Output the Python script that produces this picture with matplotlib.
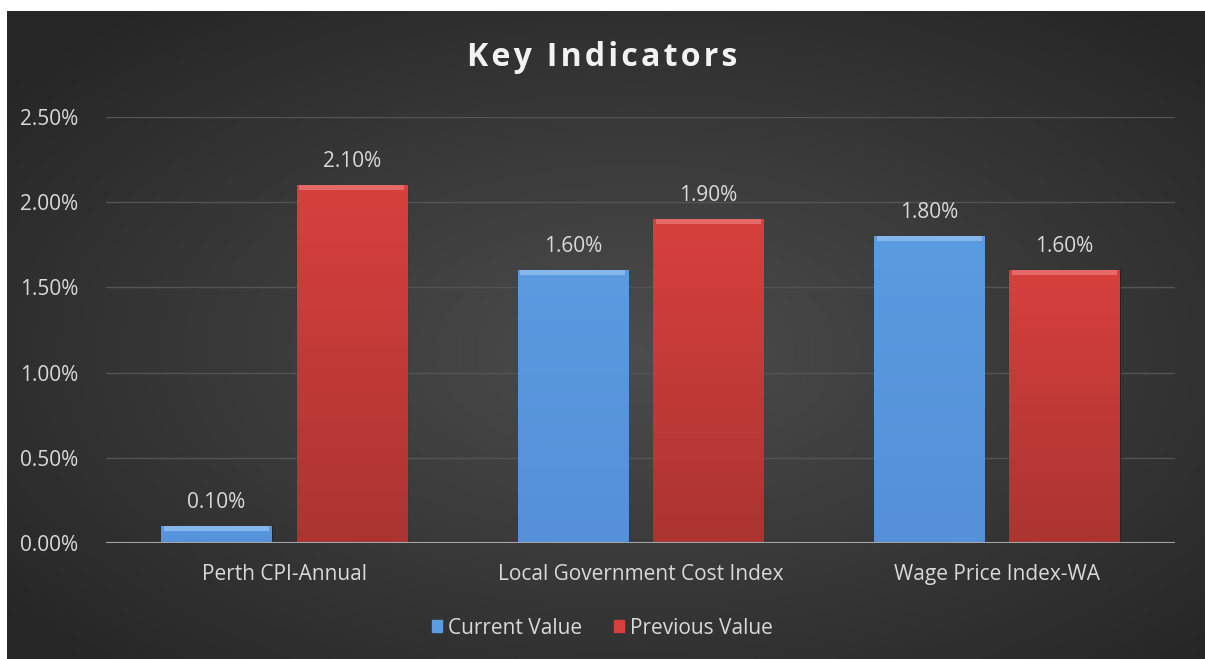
import numpy as np
import matplotlib.pyplot as plt
from matplotlib.patches import Rectangle
from matplotlib.colors import LinearSegmentedColormap

categories = ["Perth CPI-Annual", "Local Government Cost Index", "Wage Price Index-WA"]
current_value = [0.001, 0.016, 0.018]
previous_value = [0.021, 0.019, 0.016]
series_names = ["Current Value", "Previous Value"]
yticks = [0.0, 0.005, 0.010, 0.015, 0.020, 0.025]

plt.rcParams['font.family'] = ['Open Sans', 'DejaVu Sans']
txt = "#d9d9d9"

fig = plt.figure(figsize=(12.05, 6.59), dpi=100, facecolor="white")

# dark radial-gradient background
bg = fig.add_axes([7 / 1205, 0, 1198 / 1205, 648 / 659])
gx, gy = np.meshgrid(np.linspace(-1, 1, 300), np.linspace(-1, 1, 200))
r = np.clip(np.sqrt((gx - 0.05) ** 2 + (gy - 0.05) ** 2) / 1.35, 0, 1)
g = 0.30 - 0.15 * r
bg.imshow(np.dstack([g, g, g]), aspect="auto", extent=[0, 1, 0, 1])
bg.set_axis_off()

ax = fig.add_axes([106 / 1205, 116 / 659, 1069 / 1205, 426 / 659])
ax.set_facecolor("none")
x = np.arange(len(categories))
w = 0.31
off = 0.19
colors = ["#5b9be0", "#d7403d"]
bottoms = ["#5590d8", "#ab3431"]
tops = ["#86b7ec", "#e56a67"]
grad = np.linspace(1, 0, 100).reshape(-1, 1)
for vals, sign, c, bc, tc in [(current_value, -1, colors[0], bottoms[0], tops[0]),
                              (previous_value, 1, colors[1], bottoms[1], tops[1])]:
    pos = x + sign * off
    bars = ax.bar(pos, vals, w, color=c, edgecolor="#262626", linewidth=0.8, zorder=3)
    cmap = LinearSegmentedColormap.from_list("g", [bc, c])
    for b in bars:
        bx, by = b.get_x(), b.get_y()
        im = ax.imshow(grad, cmap=cmap, aspect="auto", zorder=3.5,
                       extent=[bx, bx + b.get_width(), by, by + b.get_height()])
        im.set_clip_path(b)
    bevel = [min(v, 0.00028) for v in vals]
    ax.bar(pos, bevel, w * 0.95, bottom=np.array(vals) - np.array(bevel), color=tc,
           linewidth=0, zorder=4)
    for p, v in zip(pos, vals):
        ax.text(p, v + 0.0014, "{:.2f}%".format(v * 100), ha="center", va="center",
                color=txt, fontsize=15)

ax.set_xlim(-0.5, 2.5)
ax.set_ylim(0, 0.025)
ax.set_yticks(yticks)
ax.set_yticklabels(["{:.2f}%".format(t * 100) for t in yticks])
ax.set_xticks(x)
ax.set_xticklabels(categories, fontsize=15.5)
ax.tick_params(colors=txt, labelsize=15, length=0)
ax.tick_params(axis="y", pad=20)
ax.tick_params(axis="x", pad=15)
ax.grid(axis="y", color="#545454", linewidth=1, zorder=0)
for s in ax.spines.values():
    s.set_visible(False)
ax.axhline(0, color="#a6a6a6", linewidth=1.5, zorder=5)

fig.text(0.5, 1 - 58 / 659, "\u200a".join("Key Indicators"), ha="center", va="center",
         color="#f2f2f2", fontsize=23, fontweight="bold")

h1 = Rectangle((0, 0), 1, 1, color=colors[0])
h2 = Rectangle((0, 0), 1, 1, color=colors[1])
leg = fig.legend([h1, h2], series_names, loc="center", bbox_to_anchor=(0.5, 1 - 628 / 659),
                 ncol=2, frameon=False, fontsize=15, labelcolor=txt,
                 handlelength=0.5, handleheight=0.5, handletextpad=0.3, columnspacing=1.5)

fig.savefig("out.png", dpi=100, facecolor="white")
